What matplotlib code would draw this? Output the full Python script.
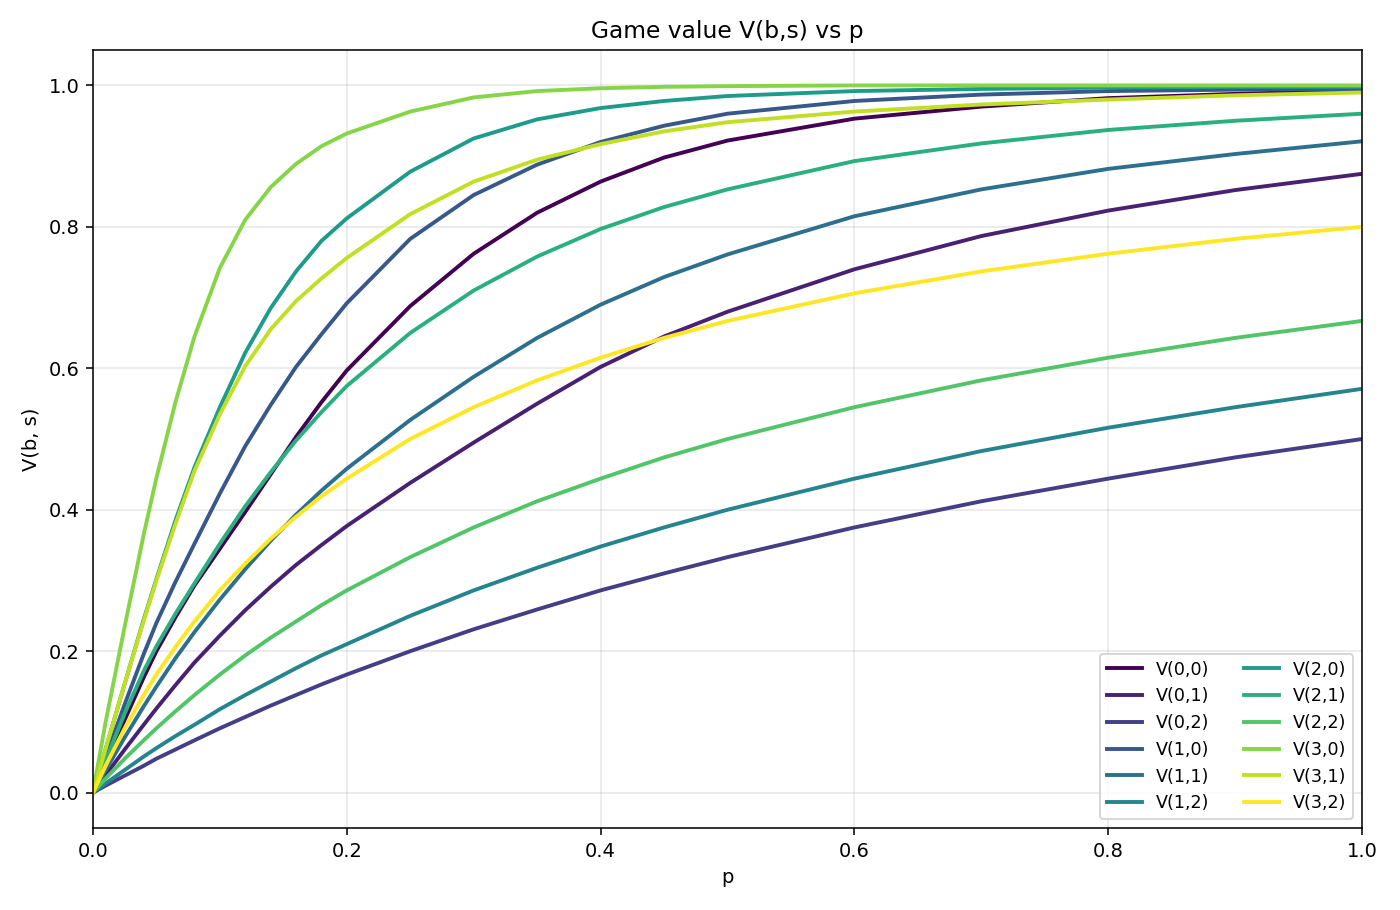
import matplotlib

matplotlib.use("Agg")

import matplotlib.pyplot as plt
import numpy as np

p_values = [0, 0.01, 0.025, 0.04, 0.05, 0.065, 0.08, 0.1, 0.12, 0.14, 0.16, 0.18,
            0.2, 0.25, 0.3, 0.35, 0.4, 0.45, 0.5, 0.6, 0.7, 0.8, 0.9, 1.0]

v_0_0 = [0, 0.041, 0.103, 0.163, 0.2, 0.248, 0.293, 0.345, 0.397, 0.45, 0.503, 0.552,
         0.597, 0.688, 0.762, 0.82, 0.864, 0.898, 0.922, 0.953, 0.97, 0.982, 0.988, 0.993]
v_0_1 = [0, 0.025, 0.061, 0.096, 0.119, 0.152, 0.184, 0.222, 0.258, 0.291, 0.322, 0.35,
         0.377, 0.438, 0.495, 0.55, 0.602, 0.645, 0.68, 0.74, 0.787, 0.823, 0.852, 0.875]
v_0_2 = [0, 0.01, 0.024, 0.038, 0.048, 0.061, 0.074, 0.091, 0.107, 0.123, 0.138, 0.153,
         0.167, 0.2, 0.231, 0.259, 0.286, 0.31, 0.333, 0.375, 0.412, 0.444, 0.474, 0.5]
v_1_0 = [0, 0.05, 0.125, 0.196, 0.24, 0.298, 0.352, 0.423, 0.49, 0.548, 0.602, 0.648,
         0.692, 0.783, 0.845, 0.888, 0.92, 0.943, 0.96, 0.978, 0.987, 0.992, 0.994, 0.995]
v_1_1 = [0, 0.032, 0.078, 0.122, 0.15, 0.19, 0.227, 0.273, 0.316, 0.356, 0.393, 0.427,
         0.458, 0.527, 0.588, 0.643, 0.69, 0.729, 0.761, 0.815, 0.853, 0.882, 0.903, 0.921]
v_1_2 = [0, 0.013, 0.032, 0.051, 0.063, 0.08, 0.096, 0.118, 0.138, 0.157, 0.176, 0.194,
         0.21, 0.25, 0.286, 0.318, 0.348, 0.375, 0.4, 0.444, 0.483, 0.516, 0.545, 0.571]
v_2_0 = [0, 0.062, 0.154, 0.245, 0.302, 0.385, 0.46, 0.545, 0.622, 0.685, 0.737, 0.78,
         0.812, 0.878, 0.925, 0.952, 0.968, 0.978, 0.985, 0.992, 0.995, 0.997, 0.998, 0.998]
v_2_1 = [0, 0.045, 0.112, 0.172, 0.207, 0.253, 0.296, 0.352, 0.405, 0.453, 0.498, 0.538,
         0.575, 0.65, 0.71, 0.758, 0.797, 0.828, 0.853, 0.893, 0.918, 0.937, 0.95, 0.96]
v_2_2 = [0, 0.02, 0.048, 0.074, 0.091, 0.115, 0.138, 0.167, 0.194, 0.219, 0.242, 0.265,
         0.286, 0.333, 0.375, 0.412, 0.444, 0.474, 0.5, 0.545, 0.583, 0.615, 0.643, 0.667]
v_3_0 = [0, 0.1, 0.235, 0.365, 0.445, 0.552, 0.645, 0.742, 0.81, 0.856, 0.889, 0.914,
         0.932, 0.963, 0.983, 0.992, 0.996, 0.998, 0.999, 1.0, 1.0, 1.0, 1.0, 1.0]
v_3_1 = [0, 0.062, 0.154, 0.243, 0.3, 0.38, 0.455, 0.535, 0.603, 0.655, 0.695, 0.727,
         0.756, 0.818, 0.864, 0.895, 0.917, 0.935, 0.948, 0.963, 0.973, 0.98, 0.986, 0.99]
v_3_2 = [0, 0.038, 0.091, 0.138, 0.167, 0.206, 0.242, 0.286, 0.324, 0.359, 0.39, 0.419,
         0.444, 0.5, 0.545, 0.583, 0.615, 0.643, 0.667, 0.706, 0.737, 0.762, 0.783, 0.8]

series = [
    ("V(0,0)", v_0_0), ("V(0,1)", v_0_1), ("V(0,2)", v_0_2),
    ("V(1,0)", v_1_0), ("V(1,1)", v_1_1), ("V(1,2)", v_1_2),
    ("V(2,0)", v_2_0), ("V(2,1)", v_2_1), ("V(2,2)", v_2_2),
    ("V(3,0)", v_3_0), ("V(3,1)", v_3_1), ("V(3,2)", v_3_2),
]

colors = plt.cm.viridis(np.linspace(0, 1, len(series)))

figure, axis = plt.subplots(figsize=(10, 6.5), dpi=140)
for (label, values), color in zip(series, colors):
    axis.plot(p_values, values, color=color, linewidth=2, label=label,
              solid_joinstyle="round")

axis.set_xlim(0, 1)
axis.set_ylim(-0.05, 1.05)
axis.set_xlabel("p")
axis.set_ylabel("V(b, s)")
axis.set_title("Game value V(b,s) vs p")
axis.grid(alpha=0.3)
axis.legend(loc="lower right", ncol=2, fontsize=9)

figure.subplots_adjust(left=0.0664, right=0.9729, bottom=0.0901, top=0.945)
figure.savefig("out.png", dpi=140)
plt.close(figure)
